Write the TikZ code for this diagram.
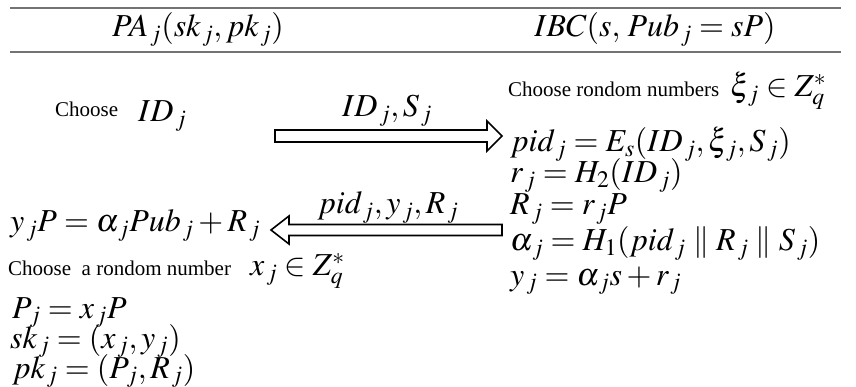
\documentclass[tikz,border=0pt]{standalone}
\usepackage{mathptmx}
\usepackage[no-math]{fontspec}
\setmainfont{Liberation Serif}
\usetikzlibrary{calc}
\newcommand{\J}{_{\kern1.8pt j}}
\begin{document}
\begin{tikzpicture}[x=1pt,y=-1pt,
  eq/.style={inner sep=0pt, anchor=base west, font=\fontsize{32}{34}\selectfont},
  hdr/.style={inner sep=0pt, anchor=base, font=\fontsize{32}{34}\selectfont},
  txt/.style={inner sep=0pt, anchor=base west, font=\fontsize{21}{24}\selectfont},
  rulel/.style={draw=black!55, line width=1.5pt},
  arr/.style={draw=black, line width=1.6pt, fill=white, line join=miter}]
\useasboundingbox (0,0) rectangle (856,387);
% header
\coordinate (r1a) at (10,8);  \coordinate (r1b) at (841,8);
\coordinate (r2a) at (10,52); \coordinate (r2b) at (841,52);
\draw[rulel] (r1a) -- (r1b);
\draw[rulel] (r2a) -- (r2b);
\node[hdr] (h1) at (198,37) {$PA\J(sk\J,pk\J)$};
\node[hdr] (h2) at (655,37) {$IBC(s,\,Pub\J=sP)$};
% left top
\node[txt] (ch1) at (55,117) {Choose};
\node[eq] (idj) at (138,122) {$ID\J$};
% right arrow
\coordinate (a1s) at (275,136);
\coordinate (a1e) at (502,136);
\draw[arr] ($(a1s)+(0,-6)$) -- ($(a1e)+(-15,-6)$) -- ($(a1e)+(-15,-15)$) -- (a1e)
  -- ($(a1e)+(-15,15)$) -- ($(a1e)+(-15,6)$) -- ($(a1s)+(0,6)$) -- cycle;
\node[hdr] (lab1) at (387,117) {$ID\J,S\J$};
% right column
\node[txt] (ch2) at (508,97) {Choose rondom numbers};
\node[eq] (xi) at (730,97) {$\xi\J\in Z_q^*$};
\node[eq] (e1) at (510,152) {$pid\J=E_s(ID\J,\xi\J,S\J)$};
\node[eq] (e2) at (510,183) {$r\J=H_2(ID\J)$};
\node[eq] (e3) at (510,215) {$R\J=r\J P$};
\node[eq] (e4) at (510,251) {$\alpha\J=H_1(pid\J\parallel R\J\parallel S\J)$};
\node[eq] (e5) at (510,285) {$y\J=\alpha\J s+r\J$};
% left arrow
\coordinate (a2s) at (502,230);
\coordinate (a2e) at (271,230);
\draw[arr] ($(a2s)+(0,-5.5)$) -- ($(a2e)+(18,-5.5)$) -- ($(a2e)+(18,-14)$) -- (a2e)
  -- ($(a2e)+(18,14)$) -- ($(a2e)+(18,5.5)$) -- ($(a2s)+(0,5.5)$) -- cycle;
\node[hdr] (lab2) at (388,214) {$pid\J,y\J,R\J$};
% left column
\node[eq] (l1) at (10,232) {$y\J P=\alpha\J Pub\J+R\J$};
\node[txt] (ch3) at (8,276) {Choose\ \ a rondom number};
\node[eq] (xj) at (250,276) {$x\J\in Z_q^*$};
\node[eq] (l2) at (12,318) {$P\J=x\J P$};
\node[eq] (l3) at (10,348) {$sk\J=(x\J,y\J)$};
\node[eq] (l4) at (12,378) {$pk\J=(P\J,R\J)$};
\end{tikzpicture}
\end{document}
